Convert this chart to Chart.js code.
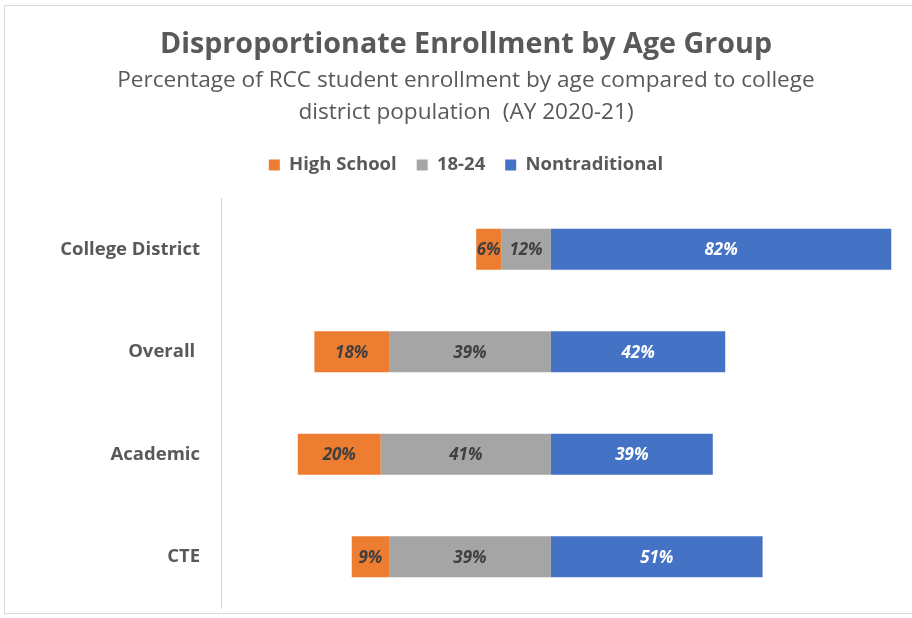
<!DOCTYPE html>
<html>
<head>
<meta charset="utf-8">
<script src="https://cdn.jsdelivr.net/npm/chart.js@4"></script>
<style>
html,body{margin:0;padding:0;background:#fff;}
#wrap{position:relative;width:912px;height:618px;overflow:hidden;}
#frame{position:absolute;left:4px;top:5px;width:930px;height:609px;border:1px solid #d9d9d9;box-sizing:border-box;}
canvas{position:absolute;left:0;top:0;}
</style>
</head>
<body>
<div id="wrap">
<div id="frame"></div>
<canvas id="c" width="912" height="618"></canvas>
</div>
<script>
const categories = ['College District', 'Overall ', 'Academic', 'CTE'];
const highSchool = [6, 18, 20, 9];
const age18to24 = [12, 39, 41, 39];
const nontraditional = [82, 42, 39, 51];
const seriesNames = ['High School', '18-24', 'Nontraditional'];
const colors = ['#ED7D31', '#A5A5A5', '#4472C4'];
const FONT = '"Open Sans", Lato, sans-serif';

const labelPlugin = {
  id: 'barLabels',
  afterDatasetsDraw(chart) {
    const ctx = chart.ctx;
    ctx.save();
    ctx.font = 'italic bold 17px ' + FONT;
    ctx.textAlign = 'center';
    ctx.textBaseline = 'middle';
    chart.data.datasets.forEach((ds, di) => {
      const meta = chart.getDatasetMeta(di);
      meta.data.forEach((bar, i) => {
        const v = Math.abs(ds.data[i]);
        ctx.fillStyle = di === 2 ? '#ffffff' : '#404040';
        ctx.fillText(Math.round(v) + '%', (bar.x + bar.base) / 2, bar.y + 1);
      });
    });
    ctx.restore();
  }
};

// add spacing below the legend (gap between legend and plot)
const legendGap = {
  id: 'legendGap',
  beforeLayout(chart) {
    const lg = chart.legend;
    if (lg && !lg._gapWrapped) {
      const origFit = lg.fit.bind(lg);
      lg.fit = function () { origFit(); this.height += 13.75; };
      lg._gapWrapped = true;
    }
  }
};

new Chart(document.getElementById('c'), {
  type: 'bar',
  data: {
    labels: categories,
    datasets: [
      { label: seriesNames[0], data: highSchool.map(v => -v), backgroundColor: colors[0], order: 1 },
      { label: seriesNames[1], data: age18to24.map(v => -v), backgroundColor: colors[1], order: 0 },
      { label: seriesNames[2], data: nontraditional, backgroundColor: colors[2], order: 2 }
    ]
  },
  options: {
    indexAxis: 'y',
    responsive: false,
    animation: false,
    devicePixelRatio: 1,
    layout: { padding: { left: 20, right: 0, top: 0, bottom: 10 } },
    datasets: { bar: { barPercentage: 0.4, categoryPercentage: 1 } },
    scales: {
      x: { stacked: true, display: false, min: -79.5, max: 87 },
      y: {
        stacked: true,
        grid: { display: false },
        border: { display: true, color: '#d9d9d9', width: 1 },
        afterFit(scale) { scale.width = 201; scale.paddingTop = 0; scale.paddingBottom = 0; },
        ticks: { color: '#595959', font: { family: FONT, size: 18.5, weight: 'bold' }, padding: 13 }
      }
    },
    plugins: {
      tooltip: { enabled: false },
      title: {
        display: true,
        text: 'Disproportionate Enrollment by Age Group',
        color: '#595959',
        font: { family: FONT, size: 28.7, weight: 'bold', lineHeight: 1.2 },
        padding: { top: 28, bottom: 0 }
      },
      subtitle: {
        display: true,
        text: ['Percentage of RCC student enrollment by age compared to college', 'district population  (AY 2020-21)'],
        color: '#595959',
        font: { family: FONT, size: 22.6, weight: 'normal', lineHeight: 1.416 },
        padding: { top: 2.6, bottom: 6.75 }
      },
      legend: {
        display: true,
        position: 'top',
        labels: {
          color: '#595959',
          font: { family: FONT, size: 18.5, weight: 'bold' },
          boxWidth: 11, boxHeight: 11,
          padding: 20,
          sort: (a, b) => a.datasetIndex - b.datasetIndex
        }
      }
    }
  },
  plugins: [labelPlugin, legendGap]
});
</script>
</body>
</html>
